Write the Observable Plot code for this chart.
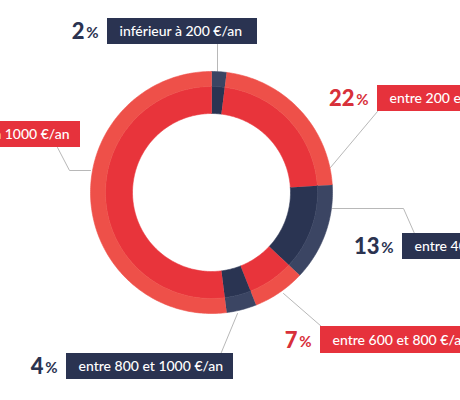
<!DOCTYPE html>
<html>
<head>
<meta charset="utf-8">
<script src="https://cdn.jsdelivr.net/npm/d3@7"></script>
<script src="https://cdn.jsdelivr.net/npm/@observablehq/plot@0.6"></script>
<style>
  html, body { margin: 0; padding: 0; background: #fff; overflow: hidden; }
</style>
</head>
<body>
<div id="chart"></div>
<script>
// ---- data ----
const categories = [
  "inférieur à 200 €/an",
  "entre 200 et 400 €/an",
  "entre 400 et 600 €/an",
  "entre 600 et 800 €/an",
  "entre 800 et 1000 €/an",
  "supérieur à 1000 €/an"
];
const shares = [2, 22, 13, 7, 4, 52];
const tones = ["navy", "red", "navy", "red", "navy", "red"];

// ---- style / layout ----
const palette = {
  red:  {outer: "#ee5049", inner: "#e8343b", box: "#e6323c", pct: "#d8303a"},
  navy: {outer: "#3b4563", inner: "#2a3452", box: "#2a3351", pct: "#2b3350"}
};
const donut = {cx: 211, cy: 192, r0: 79, rMid: 106, r1: 121};
const labelLayout = [
  {x1: 107, x2: 257, y1: 18, y2: 44, anchor: "start", leader: [[217, 44], [217, 72]]},
  {x1: 377, x2: 475, y1: 85, y2: 111, anchor: "start", leader: [[377, 111], [330, 167]]},
  {x1: 402, x2: 475, y1: 233, y2: 259, anchor: "start", leader: [[332, 208], [403, 208], [414, 233]]},
  {x1: 320, x2: 475, y1: 326, y2: 353, anchor: "start", leader: [[283, 293], [321, 326]]},
  {x1: 66, x2: 233, y1: 353, y2: 379, anchor: "start", leader: [[237, 313], [220, 354]]},
  {x1: -80, x2: 80, y1: 121, y2: 147, anchor: "end", leader: [[57, 147], [69, 170], [90, 170]]}
];

// ---- build arc polygons from shares ----
const total = d3.sum(shares);
const cum = d3.cumsum(shares);
const arcPts = [];
shares.forEach((v, i) => {
  const a0 = (cum[i] - v) / total * 2 * Math.PI;
  const a1 = cum[i] / total * 2 * Math.PI;
  const n = Math.max(2, Math.ceil((a1 - a0) / (Math.PI / 180))) + 1;
  const angles = d3.range(n).map(k => a0 + (a1 - a0) * k / (n - 1));
  [["inner", donut.r0, donut.rMid], ["outer", donut.rMid, donut.r1]].forEach(([band, ra, rb]) => {
    const key = i + "-" + band;
    const color = palette[tones[i]][band];
    angles.forEach(a => arcPts.push({key, color, x: donut.cx + rb * Math.sin(a), y: donut.cy - rb * Math.cos(a)}));
    angles.slice().reverse().forEach(a => arcPts.push({key, color, x: donut.cx + ra * Math.sin(a), y: donut.cy - ra * Math.cos(a)}));
  });
});

const labels = categories.map((c, i) => ({
  cat: c, share: shares[i], tone: tones[i], ...labelLayout[i]
}));
const leaderPts = labels.flatMap((d, i) => d.leader.map(([x, y]) => ({i, x, y})));
const startLabels = labels.filter(d => d.anchor === "start");
const endLabels = labels.filter(d => d.anchor === "end");

const font = "Lato, 'Open Sans', sans-serif";
const boxText = {
  y: d => (d.y1 + d.y2) / 2 + 0.5,
  text: "cat",
  fill: "white",
  fontSize: 14,
  fontFamily: font,
  fontWeight: 500
};

const chart = Plot.plot({
  width: 460,
  height: 400,
  margin: 0,
  x: {domain: [0, 460], range: [0, 460], axis: null},
  y: {domain: [0, 400], range: [0, 400], axis: null},
  color: {type: "identity"},
  style: {overflow: "hidden", background: "#fff"},
  marks: [
    Plot.line(leaderPts, {x: "x", y: "y", z: "i", stroke: "#b8b8b8", strokeWidth: 1}),
    Plot.line(arcPts, {x: "x", y: "y", z: "key", fill: "color", stroke: "color", strokeWidth: 0.6, curve: "linear"}),
    Plot.rect(labels, {x1: "x1", x2: "x2", y1: "y1", y2: "y2", fill: d => palette[d.tone].box, inset: 0}),
    Plot.text(startLabels, {...boxText, x: d => d.x1 + 12, textAnchor: "start"}),
    Plot.text(endLabels, {...boxText, x: d => d.x2 - 11, textAnchor: "end"}),
    Plot.text(labels, {
      x: d => d.x1 - 9,
      y: d => (d.y1 + d.y2) / 2 + 2,
      text: () => "%",
      textAnchor: "end",
      fill: d => palette[d.tone].pct,
      fontSize: 15,
      fontFamily: font,
      fontWeight: 700
    }),
    Plot.text(labels, {
      x: d => d.x1 - 23,
      y: d => (d.y1 + d.y2) / 2 + 0.5,
      text: d => String(d.share),
      textAnchor: "end",
      fill: d => palette[d.tone].pct,
      fontSize: 22,
      fontFamily: font,
      fontWeight: 900
    })
  ]
});
document.getElementById("chart").append(chart);
</script>
</body>
</html>
